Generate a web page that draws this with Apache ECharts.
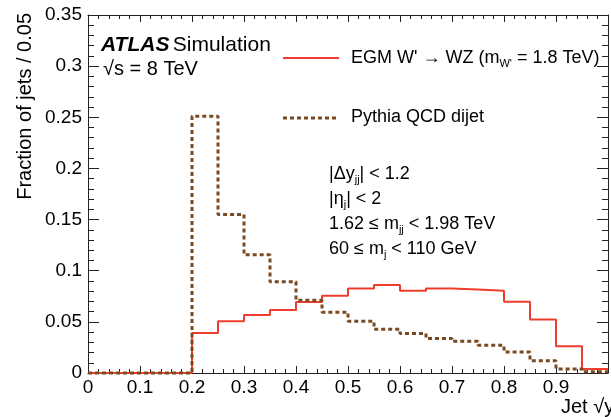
<!DOCTYPE html>
<html>
<head>
<meta charset="utf-8">
<script src="https://cdn.jsdelivr.net/npm/echarts@6/dist/echarts.min.js"></script>
<style>
html,body{margin:0;padding:0;background:#fff;}
#chart{width:611px;height:417px;}
</style>
</head>
<body>
<div id="chart"></div>
<script>
// Bin low edges of the histogram (width 0.05) and upper end of the last bin
const binLowEdges = [0, 0.05, 0.1, 0.15, 0.2, 0.25, 0.3, 0.35, 0.4, 0.45, 0.5, 0.55, 0.6, 0.65, 0.7, 0.75, 0.8, 0.85, 0.9, 0.95];
const lastEdge = 1.0;
// EGM W' -> WZ (m_W' = 1.8 TeV)
const egmValues = [0, 0, 0, 0, 0.039, 0.0506, 0.0566, 0.0615, 0.0694, 0.0755, 0.0827, 0.086, 0.0804, 0.0825, 0.0817, 0.0804, 0.0696, 0.0523, 0.0261, 0.004];
// Pythia QCD dijet
const qcdValues = [0, 0, 0, 0, 0.251, 0.155, 0.1155, 0.0892, 0.0712, 0.0595, 0.0506, 0.0427, 0.0386, 0.0337, 0.031, 0.0271, 0.0206, 0.012, 0.004, 0.0013];
const xTicks = [0, 0.1, 0.2, 0.3, 0.4, 0.5, 0.6, 0.7, 0.8, 0.9];
const yTicks = [0, 0.05, 0.1, 0.15, 0.2, 0.25, 0.3, 0.35];

const FONT = 'Liberation Sans, Arial, Helvetica, sans-serif';
const RED = '#ee3d2c';
const BROWN = '#7a4a22';

function histData(vals) {
  const d = binLowEdges.map((x, i) => [x, vals[i]]);
  d.push([lastEdge, vals[vals.length - 1]]);
  return d;
}

const chart = echarts.init(document.getElementById('chart'), null, {renderer: 'canvas'});

const commonX = {
  type: 'value', min: 0, max: 1, interval: 0.1,
  axisLine: {show: true, onZero: false, lineStyle: {color: '#222', width: 1}},
  axisTick: {show: true, inside: true, length: 7, lineStyle: {color: '#222'}},
  minorTick: {show: true, splitNumber: 5, length: 4, lineStyle: {color: '#222'}},
  splitLine: {show: false}
};
const commonY = {
  type: 'value', min: 0, max: 0.35, interval: 0.05,
  axisLine: {show: true, onZero: false, lineStyle: {color: '#222', width: 1}},
  axisTick: {show: true, inside: true, length: 11, lineStyle: {color: '#222'}},
  minorTick: {show: true, splitNumber: 5, length: 6, lineStyle: {color: '#222'}},
  splitLine: {show: false}
};

const sub = (pad) => ({fontSize: 11, fontFamily: FONT, color: '#000', padding: [pad, 0, 0, 0]});
const nrm = {fontSize: 18, fontFamily: FONT, color: '#000'};
const nrm20 = {fontSize: 20, fontFamily: FONT, color: '#000'};

const option = {
  animation: false,
  backgroundColor: '#fff',
  grid: {left: 88, top: 15, width: 528, height: 358, containLabel: false},
  xAxis: [
    Object.assign({}, commonX, {
      position: 'bottom',
      axisLabel: {show: true, margin: 5, color: '#000', fontSize: 19, fontFamily: FONT,
        formatter: v => (xTicks.some(t => Math.abs(t - v) < 1e-9) ? String(+v.toFixed(2)) : '')}
    }),
    Object.assign({}, commonX, {position: 'top', axisLabel: {show: false}})
  ],
  yAxis: [
    Object.assign({}, commonY, {
      position: 'left',
      axisLabel: {show: true, margin: 6, color: '#000', fontSize: 19, fontFamily: FONT,
        formatter: v => (yTicks.some(t => Math.abs(t - v) < 1e-9) ? String(+v.toFixed(2)) : '')}
    }),
    Object.assign({}, commonY, {position: 'right', axisLabel: {show: false}})
  ],
  series: [
    {
      name: "EGM W' → WZ", type: 'line', xAxisIndex: 0, yAxisIndex: 0,
      step: 'end', showSymbol: false, clip: false, z: 3,
      lineStyle: {color: RED, width: 2},
      data: histData(egmValues)
    },
    {
      name: 'Pythia QCD dijet', type: 'line', xAxisIndex: 0, yAxisIndex: 0,
      step: 'end', showSymbol: false, clip: false, z: 4,
      lineStyle: {color: BROWN, width: 3, type: [4, 3]},
      data: histData(qcdValues)
    }
  ],
  graphic: [
    // y-axis title
    {type: 'text', x: 25, y: 13, rotation: Math.PI / 2,
      style: {text: 'Fraction of jets / 0.05', align: 'right', verticalAlign: 'middle',
        font: '20px ' + FONT, fill: '#000'}},
    // x-axis title (cut off at right edge as in reference)
    {type: 'text', x: 561, y: 407,
      style: {text: '{n|Jet √y}{s|f}', align: 'left', verticalAlign: 'middle',
        rich: {n: nrm20, s: sub(13)}}},
    // ATLAS label
    {type: 'text', x: 101, y: 45,
      style: {text: '{b|ATLAS} {n|Simulation}', align: 'left', verticalAlign: 'middle',
        rich: {b: {fontSize: 21, fontFamily: FONT, fontWeight: 'bold', fontStyle: 'italic', color: '#000'},
               n: {fontSize: 21, fontFamily: FONT, color: '#000'}}}},
    {type: 'text', x: 103, y: 69,
      style: {text: '√s = 8 TeV', align: 'left', verticalAlign: 'middle', font: '20px ' + FONT, fill: '#000'}},
    // legend
    {type: 'line', shape: {x1: 283, y1: 58, x2: 339, y2: 58}, style: {stroke: RED, lineWidth: 2}},
    {type: 'text', x: 351, y: 58,
      style: {text: "{n|EGM W' → WZ (m}{s|W'}{n| = 1.8 TeV)}", align: 'left', verticalAlign: 'middle',
        rich: {n: nrm, s: sub(12)}}},
    {type: 'line', shape: {x1: 283, y1: 118, x2: 339, y2: 118}, style: {stroke: BROWN, lineWidth: 3, lineDash: [4, 3]}},
    {type: 'text', x: 351, y: 117,
      style: {text: 'Pythia QCD dijet', align: 'left', verticalAlign: 'middle', font: '18px ' + FONT, fill: '#000'}},
    // selection cuts
    {type: 'text', x: 329, y: 174,
      style: {text: '{n||Δy}{s|jj}{n|| < 1.2}', align: 'left', verticalAlign: 'middle', rich: {n: nrm, s: sub(12)}}},
    {type: 'text', x: 329, y: 199,
      style: {text: '{n||η}{s|j}{n|| < 2}', align: 'left', verticalAlign: 'middle', rich: {n: nrm, s: sub(12)}}},
    {type: 'text', x: 329, y: 224,
      style: {text: '{n|1.62 ≤ m}{s|jj}{n| < 1.98 TeV}', align: 'left', verticalAlign: 'middle', rich: {n: nrm, s: sub(12)}}},
    {type: 'text', x: 329, y: 249,
      style: {text: '{n|60 ≤ m}{s|j}{n| < 110 GeV}', align: 'left', verticalAlign: 'middle', rich: {n: nrm, s: sub(12)}}}
  ]
};
chart.setOption(option);
</script>
</body>
</html>
